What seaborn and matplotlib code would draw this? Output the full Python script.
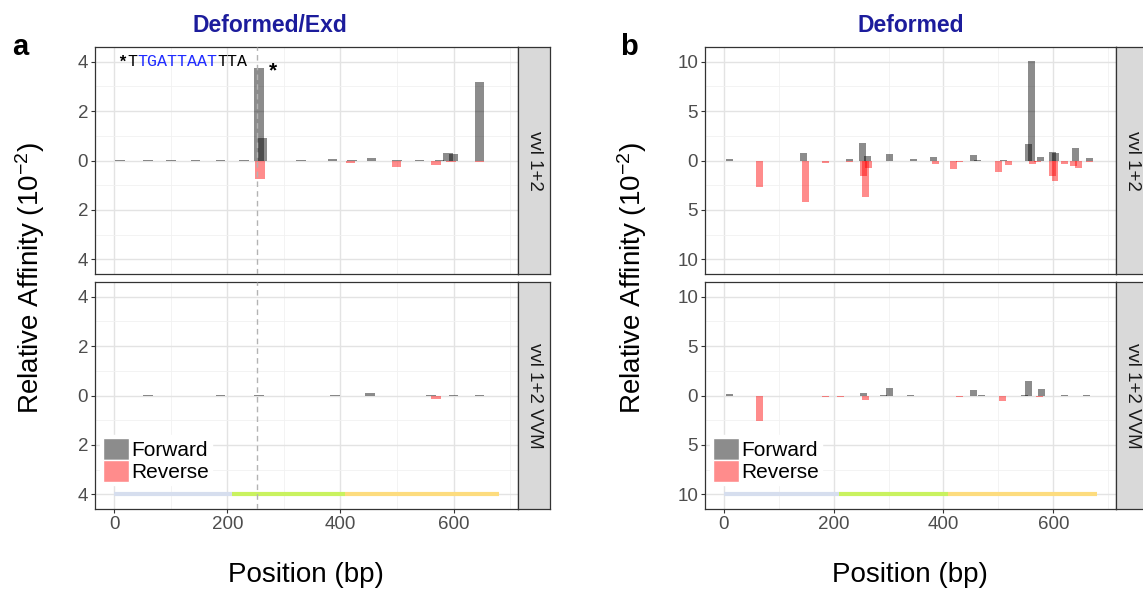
import numpy as np
import pandas as pd
import seaborn as sns
import matplotlib.pyplot as plt
from matplotlib.patches import Patch
from matplotlib.ticker import MultipleLocator

# Data
exd_wt_fwd_pos = [10, 60, 100, 144, 188, 230, 256, 262, 330, 386, 420, 455, 500, 540, 575, 590, 600, 646]
exd_wt_fwd_val = [0.01, 0.01, 0.01, 0.01, 0.01, 0.02, 3.73, 0.91, 0.02, 0.07, 0.02, 0.10, 0.02, 0.03, 0.03, 0.30, 0.25, 3.19]
exd_wt_rev_pos = [60, 100, 144, 188, 230, 258, 330, 386, 418, 455, 499, 540, 569, 595, 646]
exd_wt_rev_val = [-0.01, -0.01, -0.04, -0.04, -0.01, -0.76, -0.01, -0.02, -0.10, -0.01, -0.28, -0.02, -0.20, -0.05, -0.05]

exd_vvm_fwd_pos = [60, 188, 256, 390, 452, 560, 600, 646]
exd_vvm_fwd_val = [0.01, 0.01, 0.03, 0.01, 0.12, 0.02, 0.02, 0.02]
exd_vvm_rev_pos = [60, 188, 256, 390, 460, 569, 620]
exd_vvm_rev_val = [-0.01, -0.03, -0.04, -0.01, -0.01, -0.16, -0.02]

dfd_wt_fwd_pos = [10, 146, 229, 253, 262, 302, 345, 381, 455, 462, 510, 555, 561, 577, 599, 604, 641, 665]
dfd_wt_fwd_val = [0.15, 0.81, 0.17, 1.77, 0.47, 0.68, 0.20, 0.34, 0.58, 0.10, 0.10, 1.70, 10.1, 0.34, 0.88, 0.75, 1.29, 0.27]
dfd_wt_rev_pos = [65, 149, 186, 229, 255, 258, 263, 312, 345, 386, 419, 430, 470, 500, 518, 562, 572, 598, 603, 620, 636, 645, 666]
dfd_wt_rev_val = [-2.64, -4.16, -0.27, -0.17, -1.62, -3.66, -0.72, -0.10, -0.10, -0.34, -0.88, -0.20, -0.10, -1.19,
                  -0.44, -0.34, -0.20, -1.56, -2.07, -0.37, -0.60, -0.81, -0.20]

dfd_vvm_fwd_pos = [10, 254, 290, 302, 340, 455, 470, 548, 555, 578, 620, 660]
dfd_vvm_fwd_val = [0.15, 0.27, 0.05, 0.74, 0.05, 0.54, 0.05, 0.05, 1.48, 0.67, 0.03, 0.03]
dfd_vvm_rev_pos = [65, 186, 212, 258, 330, 370, 430, 507, 575, 630]
dfd_vvm_rev_val = [-2.63, -0.20, -0.15, -0.44, -0.07, -0.07, -0.17, -0.54, -0.17, -0.05]

# enhancer regions drawn at the bottom
region_starts = [0, 209, 408]
region_ends = [209, 408, 680]
region_colors = ['#d6deee', '#c9f25f', '#fddc7e']

strip_labels = ['vvl 1+2', 'vvl 1+2 VVM']

sns.set_theme(style="whitegrid")
plt.rcParams['font.family'] = ['Liberation Sans', 'DejaVu Sans']
plt.rcParams['text.color'] = 'black'
plt.rcParams['mathtext.fontset'] = 'custom'
plt.rcParams['mathtext.rm'] = 'Liberation Sans'
plt.rcParams['mathtext.it'] = 'Liberation Sans'

W, H = 1143, 592
fig = plt.figure(figsize=(W / 100, H / 100), dpi=100)


def px_axes(x0, y0, x1, y1):
    return fig.add_axes([x0 / W, 1 - y1 / H, (x1 - x0) / W, (y1 - y0) / H])


def style_panel(ax, lim, major, minor):
    ax.set_xlim(-34, 714)
    ax.set_ylim(-lim, lim)
    ax.set_facecolor('white')
    ax.xaxis.set_major_locator(MultipleLocator(200))
    ax.xaxis.set_minor_locator(MultipleLocator(100))
    ax.yaxis.set_major_locator(MultipleLocator(major))
    ax.yaxis.set_minor_locator(MultipleLocator(minor))
    ax.grid(which='major', color='#e3e3e3', linewidth=1.0)
    ax.grid(which='minor', color='#f1f1f1', linewidth=0.6)
    ax.set_axisbelow(True)
    for s in ax.spines.values():
        s.set_color('#333333')
        s.set_linewidth(0.9)
    ticks = np.arange(-2 * major, 2 * major + 1, major)
    ax.set_yticks(ticks)
    ax.set_yticklabels([f'{abs(t):g}' for t in ticks])
    ax.tick_params(axis='both', which='major', length=3, width=0.8, color='#333333',
                   labelsize=13.5, labelcolor='#4d4d4d', pad=2, left=True, bottom=True)
    ax.tick_params(axis='both', which='minor', length=0)


def draw_bars(ax, fpos, fval, rpos, rval, width):
    ax.bar(fpos, fval, width=width, color='black', alpha=0.45, linewidth=0, label='Forward')
    ax.bar(rpos, rval, width=width, color='red', alpha=0.45, linewidth=0, label='Reverse')


def add_strip(x0, y0, y1, label):
    sax = px_axes(x0, y0, x0 + 32, y1)
    sax.set_facecolor('#d9d9d9')
    sax.set_xticks([])
    sax.set_yticks([])
    sax.grid(False)
    for s in sax.spines.values():
        s.set_color('#333333')
        s.set_linewidth(0.9)
    sax.text(0.5, 0.5, label, rotation=270, ha='center', va='center',
             fontsize=13.5, color='#1a1a1a', transform=sax.transAxes)


def add_regions(ax, yv):
    for a, b, c in zip(region_starts, region_ends, region_colors):
        ax.plot([a, b], [yv, yv], color=c, linewidth=3, solid_capstyle='butt', zorder=3)


def add_legend(ax):
    handles = [Patch(facecolor='#8c8c8c', label='Forward'), Patch(facecolor='#ff8c8c', label='Reverse')]
    leg = ax.legend(handles=handles, loc='lower left', bbox_to_anchor=(0.012, 0.105),
                    fontsize=15, frameon=True, handlelength=1.25, handleheight=1.25,
                    handletextpad=0.1, labelspacing=0.0, borderpad=0.15, borderaxespad=0)
    leg.get_frame().set_facecolor('white')
    leg.get_frame().set_edgecolor('white')
    leg.get_frame().set_alpha(1)
    for t in leg.get_texts():
        t.set_color('black')


top_y = (47, 274)
bot_y = (282, 509)

# ---- panel a : Deformed/Exd ----
ax_a1 = px_axes(95, top_y[0], 518, top_y[1])
ax_a2 = px_axes(95, bot_y[0], 518, bot_y[1])
draw_bars(ax_a1, exd_wt_fwd_pos, exd_wt_fwd_val, exd_wt_rev_pos, exd_wt_rev_val, 17)
draw_bars(ax_a2, exd_vvm_fwd_pos, exd_vvm_fwd_val, exd_vvm_rev_pos, exd_vvm_rev_val, 17)
for ax in (ax_a1, ax_a2):
    style_panel(ax, 4.6, 2, 1)
    ax.axvline(253, color='#b3b3b3', linestyle=(0, (4, 3)), linewidth=1, zorder=4)
ax_a1.set_xticklabels([])
ax_a1.tick_params(axis='x', length=0)
add_regions(ax_a2, -4)
add_legend(ax_a2)

# binding site sequence
seq_parts = [('*', 'black', 'bold'), ('T', 'black', 'normal'), ('TGATTAAT', '#1f2bff', 'normal'),
             ('TTA', 'black', 'normal')]
cw = 12 * 0.6
off = 0
for s, c, w in seq_parts:
    ax_a1.annotate(s, xy=(5, 4.0), xytext=(off, 0), textcoords='offset points',
                   fontsize=12, family='Liberation Mono', color=c, fontweight=w,
                   va='center', ha='left')
    off += cw * len(s)
ax_a1.text(281, 3.65, '*', fontsize=15, fontweight='bold', ha='center', va='center')

add_strip(518, top_y[0], top_y[1], strip_labels[0])
add_strip(518, bot_y[0], bot_y[1], strip_labels[1])

# ---- panel b : Deformed ----
ax_b1 = px_axes(705, top_y[0], 1116, top_y[1])
ax_b2 = px_axes(705, bot_y[0], 1116, bot_y[1])
draw_bars(ax_b1, dfd_wt_fwd_pos, dfd_wt_fwd_val, dfd_wt_rev_pos, dfd_wt_rev_val, 12.7)
draw_bars(ax_b2, dfd_vvm_fwd_pos, dfd_vvm_fwd_val, dfd_vvm_rev_pos, dfd_vvm_rev_val, 12.7)
for ax in (ax_b1, ax_b2):
    style_panel(ax, 11.5, 5, 2.5)
ax_b1.set_xticklabels([])
ax_b1.tick_params(axis='x', length=0)
add_regions(ax_b2, -10)
add_legend(ax_b2)

add_strip(1116, top_y[0], top_y[1], strip_labels[0])
add_strip(1116, bot_y[0], bot_y[1], strip_labels[1])

# titles and labels
fig.text(270 / W, 1 - 25 / H, 'Deformed/Exd', fontsize=16.5, fontweight='bold', color='#1c1c9c',
         ha='center', va='center')
fig.text(911 / W, 1 - 25 / H, 'Deformed', fontsize=16.5, fontweight='bold', color='#1c1c9c',
         ha='center', va='center')
fig.text(20 / W, 1 - 47 / H, 'a', fontsize=21, fontweight='bold', ha='center', va='center')
fig.text(629 / W, 1 - 47 / H, 'b', fontsize=21, fontweight='bold', ha='center', va='center')
for x in (30, 632):
    fig.text(x / W, 1 - 278 / H, 'Relative Affinity (10$^{-2}$)', fontsize=20, rotation=90,
             ha='center', va='center', color='black')
for x in (306, 910):
    fig.text(x / W, 1 - 575 / H, 'Position (bp)', fontsize=20, ha='center', va='center', color='black')

fig.savefig('out.png', dpi=100)
